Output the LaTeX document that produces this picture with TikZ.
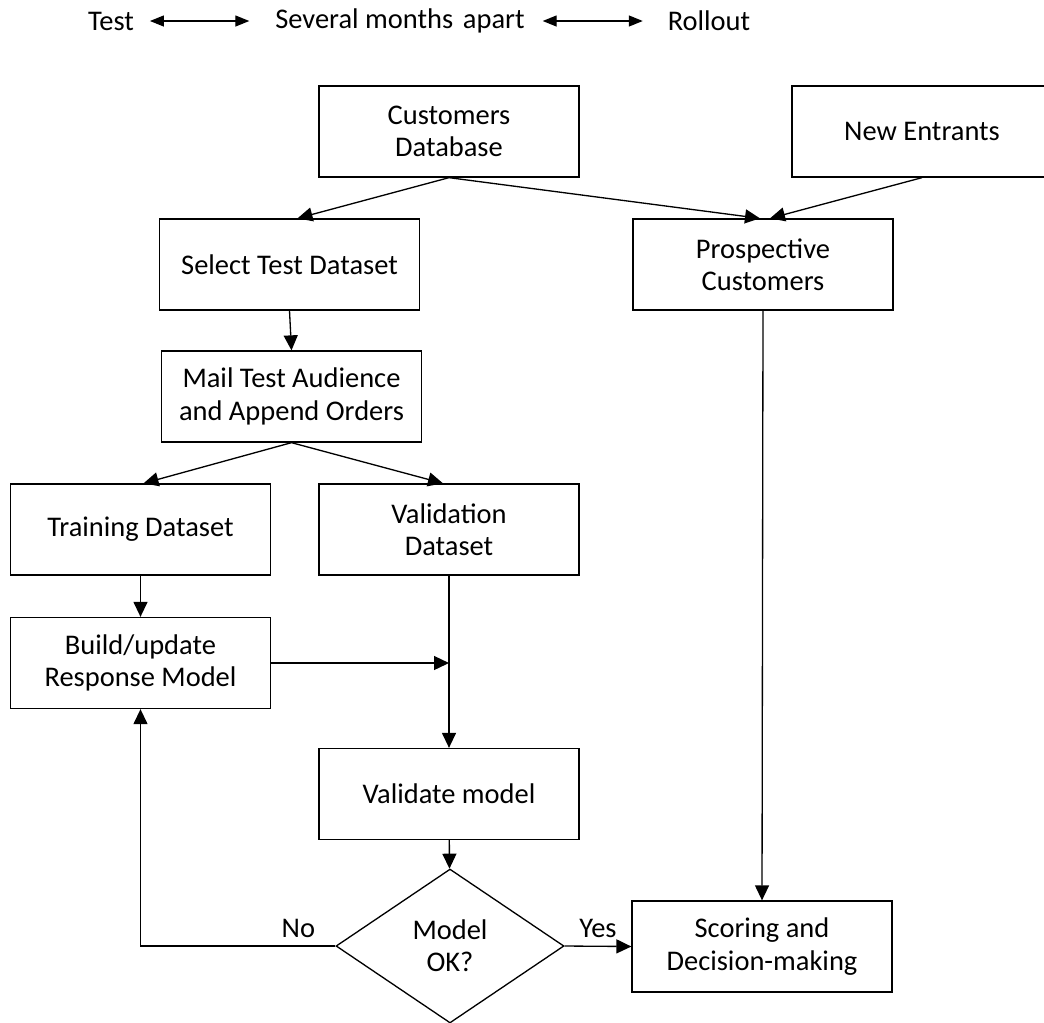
\documentclass[tikz,border=0pt]{standalone}
\usepackage{fontspec}
\setmainfont{Carlito}
\usepackage{tikz}
\usetikzlibrary{arrows.meta}
\usetikzlibrary{shapes.geometric}

\begin{document}
\begin{tikzpicture}[x=0.02cm,y=-0.02cm,line width=0.75pt,
    font=\fontsize{16.2pt}{18.4pt}\selectfont,
    box/.style={draw,rectangle,align=center,minimum width=5.2cm,minimum height=1.82cm,inner sep=0pt},
    decide/.style={draw,diamond,align=center,minimum width=4.56cm,minimum height=3.08cm,inner sep=0pt},
    arr/.style={-{Triangle[length=0.3cm,width=0.28cm]}},
    both/.style={{Triangle[length=0.28cm,width=0.22cm]}-{Triangle[length=0.28cm,width=0.22cm]}}]
            \useasboundingbox (0,0) rectangle (1044,1022);
            % time line on top
            \node (ttest) at (111,21) {Test};
            \node (tsev) at (400,21) {Several months\hspace{0.12em} apart};
            \node (troll) at (709,21) {Rollout};
            \draw[both,shorten <=0.19cm,shorten >=0.39cm] (ttest.east) -- (tsev.west);
            \draw[both,shorten <=0.23cm,shorten >=0.37cm] (tsev.east) -- (troll.west);
            % boxes
            \node[box] (cdb) at (449,131.5) {Customers\\Database};
            \node[box] (newent) at (922,131.5) {New Entrants};
            \node[box] (seltest) at (289.5,264.5) {Select Test Dataset};
            \node[box] (prosp) at (763,264.5) {Prospective\\Customers};
            \node[box] (mailtest) at (291.5,396.5) {Mail Test Audience\\and Append Orders};
            \node[box] (train) at (140.5,529.5) {Training Dataset};
            \node[box] (valid) at (449,529.5) {Validation\\Dataset};
            \node[box] (build) at (140.5,663) {Build/update\\Response Model};
            \node[box] (valmod) at (449,794) {Validate model};
            \node[decide] (modelok) at (450,946) {Model\\OK?};
            \node[box] (score) at (762,946.5) {Scoring and\\Decision-making};
            % arrows
            \draw[arr] (cdb.south) -- ([xshift=0.16cm]seltest.north);
            \draw[arr] (cdb.south) -- ([xshift=-0.06cm]prosp.north);
            \draw[arr] (newent.south) -- ([xshift=0.14cm]prosp.north);
            \draw[arr] (seltest.south) -- (mailtest.north);
            \draw[arr] (mailtest.south) -- ([xshift=0.06cm]train.north);
            \draw[arr] (mailtest.south) -- ([xshift=-0.12cm]valid.north);
            \draw[arr] (train) -- (build);
            \draw[arr] (build.east) -- (valid.south |- build.east);
            \draw[arr] (valid.south) -- (valmod.north);
            \draw[arr] (valmod) -- (modelok);
            \draw[arr] (prosp.south) -- (score.north);
            \draw[arr] (modelok.east) -- node[above=1pt] {Yes} (score.west);
            \draw[arr] (modelok.west) -| node[above=1pt,pos=0.095] {No} (build.south);
\end{tikzpicture}
\end{document}
